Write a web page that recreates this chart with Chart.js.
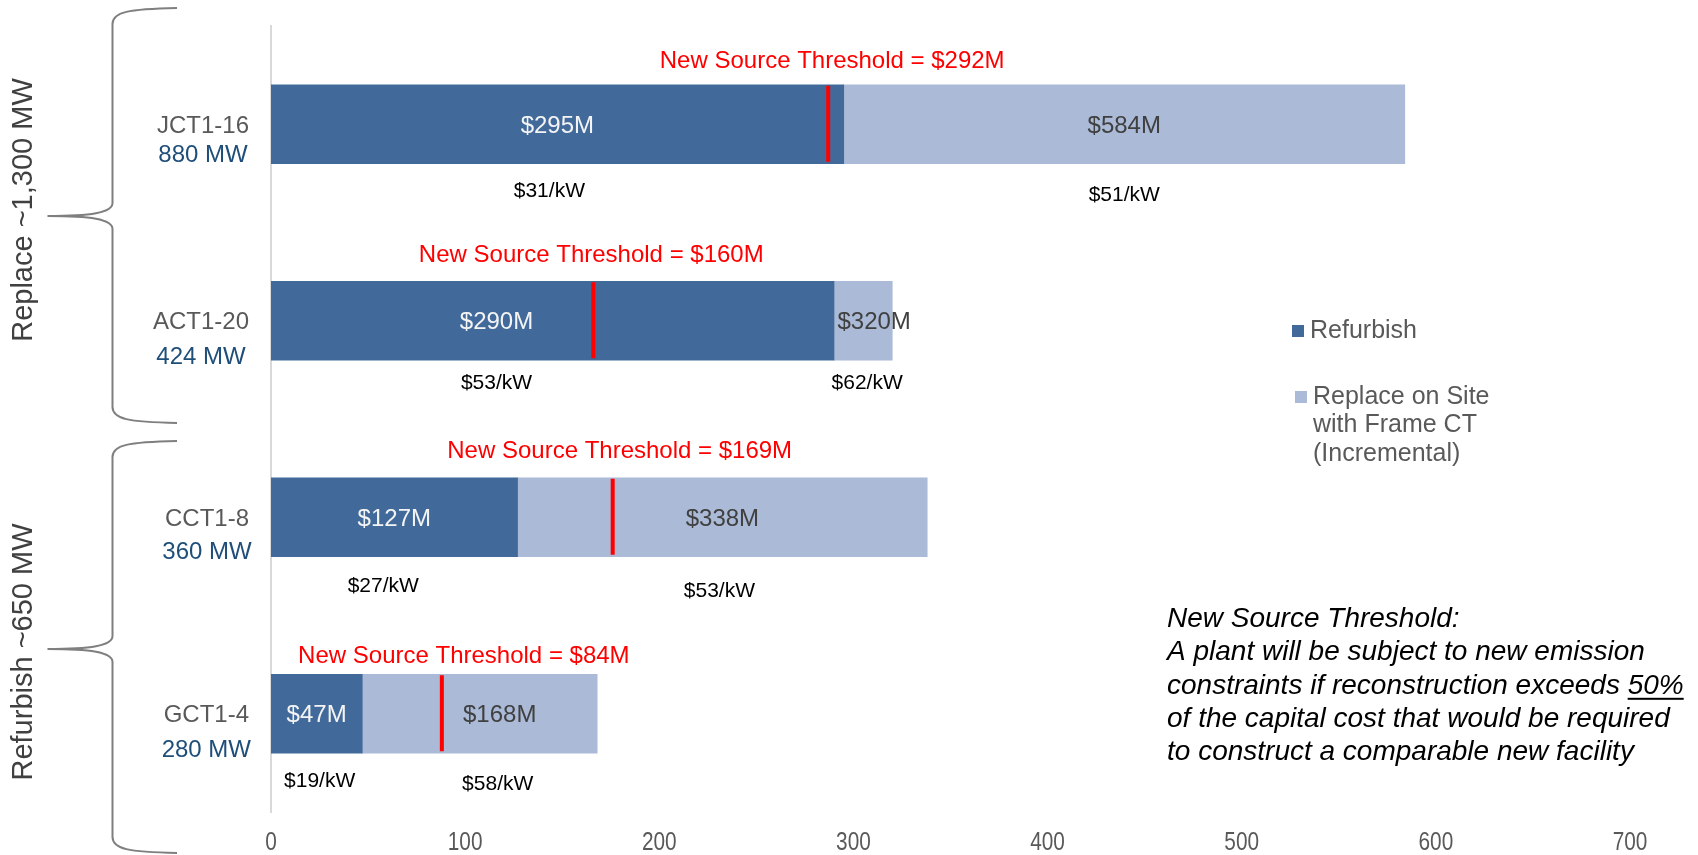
<!DOCTYPE html>
<html><head><meta charset="utf-8">
<script src="https://cdn.jsdelivr.net/npm/chart.js@4"></script>
<style>html,body{margin:0;padding:0;background:#fff;}#wrap{width:1698px;height:855px;position:relative;}</style>
</head><body><div id="wrap"><canvas id="c" width="1698" height="855"></canvas></div>
<script>
// ---- data ----
const categories = ['JCT1-16', 'ACT1-20', 'CCT1-8', 'GCT1-4'];
const capacityMW = [880, 424, 360, 280];
const refurbish = [295, 290, 127, 47];
const replaceIncremental = [289, 30, 211, 121];
const replaceTotal = [584, 320, 338, 168];
const refurbishPerKW = [31, 53, 27, 19];
const replacePerKW = [51, 62, 53, 58];
const thresholdLabel = [292, 160, 169, 84];
const thresholdMark = [287, 166, 176, 88];
const xMin = 0, xMax = 700, xStep = 100;
const seriesNames = ['Refurbish', 'Replace on Site with Frame CT (Incremental)'];
const legendLines = [['Refurbish'], ['Replace on Site', 'with Frame CT', '(Incremental)']];
const groupLabels = ['Replace ~1,300 MW', 'Refurbish ~650 MW'];
const noteLines = [
  'New Source Threshold:',
  'A plant will be subject to new emission',
  'constraints if reconstruction exceeds 50%',
  'of the capital cost that would be required',
  'to construct a comparable new facility'
];

const FONT = "'Liberation Sans', Arial, sans-serif";
const DARK = '#416a9b', LIGHT = '#aabad7';

function txt(ctx, s, x, y, font, color, align) {
  ctx.font = font; ctx.fillStyle = color; ctx.textAlign = align || 'center'; ctx.textBaseline = 'middle';
  ctx.fillText(s, x, y);
}

const annotate = {
  id: 'annotate',
  afterDatasetsDraw(chart, args, o) {
    const ctx = chart.ctx;
    const xs = chart.scales.x;
    const m0 = chart.getDatasetMeta(0).data;
    const m1 = chart.getDatasetMeta(1).data;
    ctx.save();
    categories.forEach((cat, i) => {
      const b0 = m0[i], b1 = m1[i];
      const top = b0.y - b0.height / 2, bot = b0.y + b0.height / 2;
      // threshold line
      const tx = xs.getPixelForValue(thresholdMark[i]);
      ctx.fillStyle = '#ff0000';
      ctx.fillRect(tx - 2, top + 1, 4, b0.height - 3);
      // threshold label
      txt(ctx, 'New Source Threshold = $' + thresholdLabel[i] + 'M', tx + o.thrDx[i], top + o.thrDy[i], '24px ' + FONT, '#ff0000');
      // value labels
      const dx = (Math.min(b0.base, b0.x) + Math.max(b0.base, b0.x)) / 2;
      const lx = (Math.min(b1.base, b1.x) + Math.max(b1.base, b1.x)) / 2;
      txt(ctx, '$' + refurbish[i] + 'M', dx + o.darkDx[i], b0.y + 2, '24px ' + FONT, '#f4f4f4');
      txt(ctx, '$' + replaceTotal[i] + 'M', lx + o.lightDx[i], b1.y + 2, '24px ' + FONT, '#404040');
      // per kW
      txt(ctx, '$' + refurbishPerKW[i] + '/kW', dx + o.kwDx0[i], bot + o.kwDy0[i], '21px ' + FONT, '#000');
      txt(ctx, '$' + replacePerKW[i] + '/kW', lx + o.kwDx1[i], bot + o.kwDy1[i], '21px ' + FONT, '#000');
      // category labels
      ctx.font = '24px ' + FONT;
      const w = ctx.measureText(cat).width;
      txt(ctx, cat, 249, b0.y + 2, '24px ' + FONT, '#595959', 'right');
      txt(ctx, capacityMW[i] + ' MW', 249 - w / 2, b0.y + 2 + o.capDy[i], '24px ' + FONT, '#1f4e79', 'center');
    });

    // x tick labels (condensed face, positioned by the x scale)
    xs.ticks.forEach((t, k) => {
      const px = xs.getPixelForTick(k);
      ctx.save();
      ctx.translate(px, 843);
      ctx.scale(0.8, 1);
      txt(ctx, String(t.value), 0, 0, '26px ' + FONT, '#595959');
      ctx.restore();
    });

    // braces
    ctx.strokeStyle = '#7f7f7f'; ctx.lineWidth = 2;
    const brace = (t, tip, b) => {
      const vx = 112.5, ex = 177, px = 47.5;
      ctx.beginPath();
      ctx.moveTo(ex, t);
      ctx.bezierCurveTo(128, t + 1, vx, t + 4, vx, t + 16);
      ctx.lineTo(vx, tip - 13);
      ctx.bezierCurveTo(vx, tip - 3, 90, tip, px, tip);
      ctx.bezierCurveTo(90, tip, vx, tip + 3, vx, tip + 13);
      ctx.lineTo(vx, b - 16);
      ctx.bezierCurveTo(vx, b - 4, 128, b - 1, ex, b);
      ctx.stroke();
    };
    brace(8, 216, 423);
    brace(441, 649, 853);

    // rotated group labels
    [[24, 210], [24, 652]].forEach((p, k) => {
      ctx.save();
      ctx.translate(p[0], p[1]);
      ctx.rotate(-Math.PI / 2);
      txt(ctx, groupLabels[k], 0, 0, '29px ' + FONT, '#404040');
      ctx.restore();
    });

    // legend
    const colors = chart.data.datasets.map(d => d.backgroundColor);
    ctx.fillStyle = colors[0]; ctx.fillRect(1292, 325, 12, 12);
    legendLines[0].forEach((s, j) => txt(ctx, s, 1310, 331, '25px ' + FONT, '#595959', 'left'));
    ctx.fillStyle = colors[1]; ctx.fillRect(1295, 391, 12, 12);
    legendLines[1].forEach((s, j) => txt(ctx, s, 1313, 397 + j * 28.5, '25px ' + FONT, '#595959', 'left'));

    // note
    noteLines.forEach((s, j) => txt(ctx, s, 1167, 619 + j * 33.4, 'italic 28px ' + FONT, '#000', 'left'));
    // underline 50%
    ctx.font = 'italic 28px ' + FONT;
    const full = ctx.measureText(noteLines[2]).width;
    const pw = ctx.measureText('50%').width;
    ctx.fillStyle = '#000';
    ctx.fillRect(1167 + full - pw, 619 + 2 * 33.4 + 12, pw, 2);
    ctx.restore();
  }
};

new Chart(document.getElementById('c'), {
  type: 'bar',
  data: {
    labels: categories,
    datasets: [
      { label: seriesNames[0], data: refurbish, backgroundColor: DARK, borderWidth: 0, barThickness: 79 },
      { label: seriesNames[1], data: replaceIncremental, backgroundColor: LIGHT, borderWidth: 0, barThickness: 79 }
    ]
  },
  options: {
    indexAxis: 'y',
    responsive: false,
    animation: false,
    devicePixelRatio: 1,
    layout: { padding: { left: 271, right: 68, top: 26, bottom: 0 } },
    plugins: {
      legend: { display: false },
      tooltip: { enabled: false },
      annotate: {
        thrDx: [4, -2, 7, 22],
        thrDy: [-23, -26, -26, -18],
        darkDx: [0, -56, 0, 0],
        lightDx: [0, 11, 0, 20],
        kwDx0: [-8, -56, -11, 3],
        kwDx1: [0, 4, -3, 18],
        kwDy0: [27, 23, 29, 28],
        kwDy1: [31, 23, 34, 31],
        capDy: [29.5, 35, 33, 35]
      }
    },
    scales: {
      x: {
        stacked: true, min: xMin, max: xMax,
        ticks: { stepSize: xStep, color: 'rgba(0,0,0,0)', font: { family: FONT, size: 25 }, padding: 16 },
        grid: { display: false, drawTicks: false },
        border: { display: false },
        afterFit: s => { s.height = 43; }
      },
      y: {
        stacked: true,
        ticks: { display: false },
        grid: { display: false, drawTicks: false },
        border: { display: true, color: '#d9d9d9', width: 2 },
        afterFit: s => { s.width = 0; }
      }
    }
  },
  plugins: [annotate]
});
</script>
</body></html>
